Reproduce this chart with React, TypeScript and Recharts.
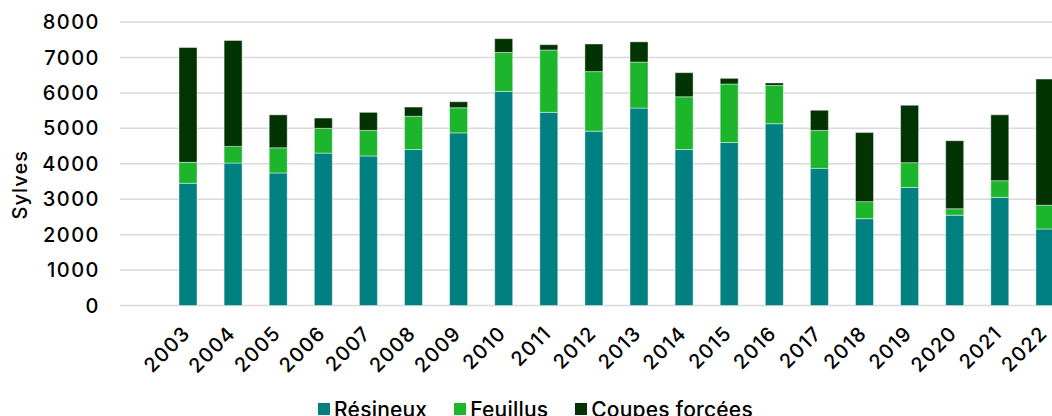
import React from "react";
import { BarChart, Bar, XAxis, YAxis, CartesianGrid, Legend } from "recharts";

const years = ["2003","2004","2005","2006","2007","2008","2009","2010","2011","2012","2013","2014","2015","2016","2017","2018","2019","2020","2021","2022"];
const resineux = [3450,4020,3740,4300,4220,4400,4870,6040,5450,4920,5570,4400,4600,5130,3870,2450,3330,2550,3050,2160];
const feuillus = [590,470,710,700,720,940,710,1100,1760,1680,1300,1490,1650,1080,1070,480,700,180,470,670];
const coupesForcees = [3240,2990,930,290,510,260,170,390,150,780,570,680,160,70,570,1950,1620,1920,1860,3560];
const yTicks = [0,1000,2000,3000,4000,5000,6000,7000,8000];
const seriesNames = ["Résineux", "Feuillus", "Coupes forcées"];
const seriesColors = ["#008080", "#1cb52c", "#023302"];

const data = years.map((y, i) => ({
  year: y,
  [seriesNames[0]]: resineux[i],
  [seriesNames[1]]: feuillus[i],
  [seriesNames[2]]: coupesForcees[i],
}));

const FONT = "Inter, 'DejaVu Sans', sans-serif";

const XTick = (props: any) => {
  const { x, y, payload } = props;
  return (
    <text
      transform={`translate(${x + 4},${y + 29}) rotate(-45)`}
      textAnchor="end"
      fontSize={20}
      fontWeight={500}
      letterSpacing={1.2}
      fontFamily={FONT}
      fill="#000"
    >
      {payload.value}
    </text>
  );
};

const LegendContent = (props: any) => {
  const { payload } = props;
  const items = seriesNames.map((n) => (payload || []).find((p: any) => p.value === n) || { value: n, color: seriesColors[seriesNames.indexOf(n)] });
  return (
    <div style={{ display: "flex", justifyContent: "center", height: 24, alignItems: "center", fontFamily: FONT, fontSize: 21, fontWeight: 500, letterSpacing: 0.2, color: "#000", paddingLeft: 4 }}>
      {items.map((p: any, i: number) => (
        <div key={i} style={{ display: "flex", alignItems: "center", marginRight: i < items.length - 1 ? 27 : 0 }}>
          <div style={{ width: 12, height: 12, background: p.color, marginRight: 4 }} />
          <span>{p.value}</span>
        </div>
      ))}
    </div>
  );
};

const YLabel = (props: any) => {
  const vb = props.viewBox || { x: 0, y: 0, width: 0, height: 0 };
  const cx = vb.x + 20;
  const cy = vb.y + vb.height / 2 + 21;
  return (
    <text
      x={cx}
      y={cy}
      transform={`rotate(-90, ${cx}, ${cy})`}
      textAnchor="middle"
      dominantBaseline="central"
      fontSize={20}
      fontWeight={500}
      letterSpacing={1}
      fontFamily={FONT}
      fill="#000"
    >
      Sylves
    </text>
  );
};

export default function App() {
  return (
    <div style={{ position: "absolute", left: 0, top: 0, width: 1052, height: 416, overflow: "hidden", background: "#fff" }}>
      <BarChart
        width={1075}
        height={421}
        data={data}
        margin={{ top: 22, right: 8, left: 0, bottom: 0 }}
        barSize={18}
      >
        <CartesianGrid vertical={false} stroke="#d9d9d9" strokeWidth={1.5} />
        <XAxis
          dataKey="year"
          axisLine={false}
          tickLine={false}
          tickSize={0}
          tickMargin={0}
          height={91.5}
          interval={0}
          padding={{ left: 45, right: 0 }}
          tick={<XTick />}
        />
        <YAxis
          width={120}
          domain={[0, 8000]}
          ticks={yTicks}
          axisLine={false}
          tickLine={false}
          tickSize={0}
          tickMargin={20}
          tick={{ fontSize: 20, fontWeight: 500, letterSpacing: 1.5, fontFamily: FONT, fill: "#000" }}
          label={{ content: <YLabel /> }}
        />
        <Legend verticalAlign="bottom" content={<LegendContent />} />
        {seriesNames.map((n, i) => (
          <Bar key={n} dataKey={n} stackId="a" fill={seriesColors[i]} stroke="rgba(255,255,255,0.55)" strokeWidth={0.8} isAnimationActive={false} />
        ))}
      </BarChart>
    </div>
  );
}
